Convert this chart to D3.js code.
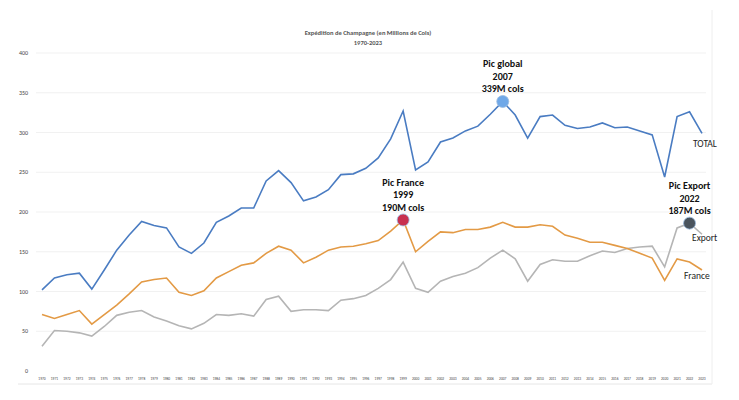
<!DOCTYPE html>
<html><head><meta charset="utf-8">
<script src="https://cdn.jsdelivr.net/npm/d3@7"></script>
<style>body{margin:0;background:#fff}text{font-family:Carlito,"Liberation Sans",Arial,sans-serif}</style>
</head><body><div id="chart"></div>
<script>
const years = d3.range(1970, 2024);
const total = [102,117,121,123,103,127,152,171,188,183,180,156,148,161,187,195,205,205,239,252,237,214,219,228,247,248,255,268,292,327,253,263,288,293,302,308,323,339,322,293,320,322,309,305,307,312,306,307,302,297,244,320,326,299];
const france = [71,66,71,76,59,71,83,97,112,115,117,99,95,101,117,125,133,136,148,157,152,136,143,152,156,157,160,164,176,190,150,163,175,174,178,178,181,187,181,181,184,182,171,167,162,162,158,154,148,142,114,141,137,127];
const exportV = [31,51,50,48,44,56,70,74,76,68,63,57,53,60,71,70,72,69,90,94,75,77,77,76,89,91,95,104,115,137,104,99,113,119,123,130,142,152,141,113,134,140,138,138,145,151,149,154,156,157,131,180,186,172];
const yTicks = [0,50,100,150,200,250,300,350,400];
const peaks = [
  {lines:['Pic global','2007','339M cols'], year:2007, series:total, fill:'#6fa8e8'},
  {lines:['Pic France','1999','190M cols'], year:1999, series:france, fill:'#c8304f'},
  {lines:['Pic Export','2022','187M cols'], year:2022, series:exportV, fill:'#4a545e'}
];

const W = 739, H = 400;
const svg = d3.select('#chart').append('svg').attr('width', W).attr('height', H);
const x = d3.scaleLinear().domain([1970, 2023]).range([42, 702]);
const y = d3.scaleLinear().domain([0, 400]).range([371, 53]);

svg.selectAll('.grid').data(yTicks.slice(1)).enter().append('line')
  .attr('x1', 36).attr('x2', 706).attr('y1', d => y(d)).attr('y2', d => y(d))
  .attr('stroke', '#eeeeee').attr('stroke-width', 0.8);
svg.selectAll('.yl').data(yTicks).enter().append('text')
  .attr('x', 28).attr('y', d => y(d) + 2).attr('text-anchor', 'end')
  .attr('font-size', 6).attr('fill', '#444').text(d => d);
svg.selectAll('.xl').data(years).enter().append('text')
  .attr('x', d => x(d)).attr('y', 380).attr('text-anchor', 'middle')
  .attr('font-size', 3.6).attr('fill', '#444').text(d => d);
svg.append('line').attr('x1', 18).attr('x2', 712).attr('y1', 384).attr('y2', 384).attr('stroke', '#e6e6e6');
svg.append('line').attr('x1', 712).attr('x2', 712).attr('y1', 10).attr('y2', 384).attr('stroke', '#eeeeee');

svg.append('text').attr('x', 368).attr('y', 35).attr('text-anchor', 'middle')
  .attr('font-size', 6.5).attr('font-weight', 'bold').attr('fill', '#555')
  .text('Expédition de Champagne (en Millions de Cols)');
svg.append('text').attr('x', 368).attr('y', 45).attr('text-anchor', 'middle')
  .attr('font-size', 6.5).attr('font-weight', 'bold').attr('fill', '#555').text('1970-2023');

const line = d3.line().x((d, i) => x(years[i])).y(d => y(d));
[[exportV, '#b5b5b5'], [france, '#e39a45'], [total, '#4a7cc2']].forEach(([s, c]) => {
  svg.append('path').attr('d', line(s)).attr('fill', 'none').attr('stroke', c).attr('stroke-width', 1.6);
});

peaks.forEach(p => {
  const i = years.indexOf(p.year);
  const cx = x(p.year), cy = y(p.series[i]);
  svg.append('circle').attr('cx', cx).attr('cy', cy).attr('r', 6)
    .attr('fill', p.fill).attr('stroke', '#9bbbe0').attr('stroke-width', 0.8);
  p.lines.forEach((t, k) => {
    svg.append('text').attr('x', cx).attr('y', cy - 34 + k * 12.5).attr('text-anchor', 'middle')
      .attr('font-size', 10).attr('font-weight', 'bold').attr('fill', '#111').text(t);
  });
});

[['TOTAL', 693, 147], ['Export', 692, 241], ['France', 684, 279]].forEach(([t, lx, ly]) => {
  svg.append('text').attr('x', lx).attr('y', ly).attr('font-size', 9.5).attr('fill', '#222').text(t);
});
</script></body></html>
